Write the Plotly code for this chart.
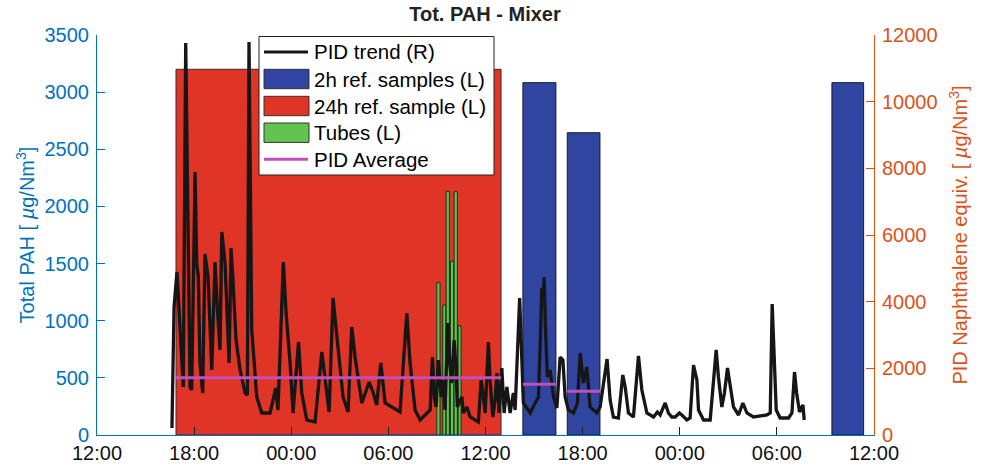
import pandas as pd
import plotly.graph_objects as go

# ---------------- data (hours after 12:00 of day 1) ----------------
start_day = "2019-05-14 12:00"

pid_hours = [4.63, 4.67, 4.76, 4.94, 5.23, 5.33, 5.48, 5.75, 5.85, 6.06,
             6.16, 6.26, 6.36, 6.53, 6.67, 6.86, 7.09, 7.29, 7.48, 7.60,
             7.71, 7.91, 8.16, 8.28, 8.40, 8.59, 8.84, 9.15, 9.29, 9.39,
             9.56, 9.87, 10.18, 10.69, 11.04, 11.18, 11.51, 11.68, 11.93, 12.11,
             12.45, 12.65, 12.96, 13.47, 13.89, 14.03, 14.34, 14.58, 14.81, 15.20,
             15.51, 15.74, 15.94, 16.36, 16.81, 17.07, 17.28, 17.53, 17.80, 18.72,
             19.14, 19.34, 19.65, 19.96, 20.58, 20.72, 20.84, 20.95, 21.09, 21.26,
             21.40, 21.50, 21.67, 21.81, 21.92, 22.06, 22.18, 22.26, 22.54, 22.63,
             22.85, 23.05, 23.56, 23.73, 23.87, 23.98, 24.18, 24.28, 24.45, 24.59,
             24.70, 24.84, 25.01, 25.15, 25.32, 25.52, 25.72, 25.83, 26.11, 26.20,
             26.34, 26.55, 26.76, 27.00, 27.27, 27.37, 27.48, 27.56, 27.62, 27.71,
             27.82, 27.99, 28.20, 28.41, 28.61, 28.78, 28.92, 29.12, 29.43, 29.68,
             29.85, 30.05, 30.26, 30.46, 30.88, 31.08, 31.51, 31.70, 31.90, 32.21,
             32.48, 32.63, 32.83, 33.14, 33.45, 33.66, 33.97, 34.38, 34.62, 34.79,
             35.10, 35.30, 35.51, 35.72, 35.98, 36.13, 36.44, 36.64, 36.85, 37.06,
             37.16, 37.47, 37.88, 38.25, 38.39, 38.60, 38.76, 38.95, 39.11, 39.32,
             39.63, 39.90, 40.15, 40.55, 41.38, 41.59, 41.71, 41.84, 41.96, 42.20,
             42.72, 42.93, 43.09, 43.22, 43.40, 43.61, 43.69]
pid_values = [210, 1440, 3840, 4890, 2160, 1440, 11760, 1440, 1350, 7890,
              5160, 4740, 2160, 1260, 5430, 4740, 1950, 5190, 3450, 2550,
              6090, 5160, 2160, 5610, 4650, 2850, 1950, 1260, 1200, 11790,
              3150, 1140, 660, 660, 1410, 750, 5190, 3660, 2160, 660,
              2790, 1260, 450, 390, 2490, 1950, 690, 4110, 3060, 1140,
              690, 3240, 2340, 960, 1590, 1260, 900, 2160, 960, 690,
              3660, 2160, 750, 450, 750, 2340, 1140, 840, 2250, 1140,
              1650, 750, 3360, 2040, 1560, 2850, 2040, 840, 1140, 660,
              840, 540, 390, 1650, 1140, 660, 2790, 1650, 540, 1050,
              1860, 660, 2010, 660, 1440, 660, 1260, 750, 4110, 2550,
              960, 810, 660, 900, 1140, 2550, 4410, 4050, 4740, 3150,
              1740, 1950, 1140, 810, 2340, 2250, 1140, 750, 660, 960,
              2460, 1560, 2040, 840, 660, 840, 2280, 1050, 540, 510,
              1800, 1440, 660, 540, 2370, 1350, 660, 540, 690, 600,
              960, 660, 540, 540, 660, 600, 450, 510, 2100, 1650,
              750, 450, 450, 2550, 1740, 840, 1260, 2010, 1440, 840,
              600, 960, 660, 540, 600, 660, 3930, 2160, 750, 510,
              510, 660, 1890, 1260, 690, 900, 450]

ref24_start = [4.88]
ref24_end = [24.96]
ref24_value = [3200]

ref2h_start = [26.31, 29.05, 45.40]
ref2h_end = [28.35, 31.07, 47.36]
ref2h_value = [3083, 2645, 3083]

tube_start = [20.99, 21.36, 21.57, 21.83, 22.06, 22.31]
tube_end = [21.19, 21.55, 21.77, 22.04, 22.26, 22.49]
tube_value = [1333, 1137, 2132, 1520, 2129, 954]

avg_start = [4.88, 26.31, 29.05]
avg_end = [24.96, 28.35, 31.07]
avg_value = [1720, 1520, 1310]

legend_labels = ["PID trend (R)", "2h ref. samples (L)", "24h ref. sample (L)",
                 "Tubes (L)", "PID Average"]

# ---------------- styles ----------------
BLUE_AX = "#0072BD"
ORANGE_AX = "#D95319"
RED = "#E03426"
NAVY = "#2F45A0"
GREEN = "#62C44E"
MAGENTA = "#BF4FBF"
FONT = "Liberation Sans, Arial, sans-serif"

t0 = pd.Timestamp(start_day)


def to_time(hours):
    return [t0 + pd.to_timedelta(h, unit="h") for h in hours]


def bar_geom(starts, ends):
    s = to_time(starts)
    e = to_time(ends)
    centers = [a + (b - a) / 2 for a, b in zip(s, e)]
    widths = [(b - a).total_seconds() * 1000 for a, b in zip(s, e)]
    return centers, widths


fig = go.Figure()

c, w = bar_geom(ref24_start, ref24_end)
fig.add_trace(go.Bar(x=c, y=ref24_value, width=w, marker=dict(color=RED, line=dict(color="#3a2a2a", width=1)),
                     name=legend_labels[2], yaxis="y", showlegend=False))
c, w = bar_geom(ref2h_start, ref2h_end)
fig.add_trace(go.Bar(x=c, y=ref2h_value, width=w, marker=dict(color=NAVY, line=dict(color="#1a1a30", width=1)),
                     name=legend_labels[1], yaxis="y", showlegend=False))
c, w = bar_geom(tube_start, tube_end)
fig.add_trace(go.Bar(x=c, y=tube_value, width=w, marker=dict(color=GREEN, line=dict(color="#1a301a", width=1)),
                     name=legend_labels[3], yaxis="y", showlegend=False))

fig.add_trace(go.Scatter(x=to_time(pid_hours), y=pid_values, mode="lines",
                         line=dict(color="#161616", width=3.3), name=legend_labels[0],
                         yaxis="y2", showlegend=False))

for s, e, v in zip(avg_start, avg_end, avg_value):
    fig.add_trace(go.Scatter(x=to_time([s, e]), y=[v, v], mode="lines",
                             line=dict(color=MAGENTA, width=3), name=legend_labels[4],
                             yaxis="y2", showlegend=False))

# ---------------- manual legend (MATLAB-like) ----------------
L, R, T, B = 97, 874, 35, 435


def px(x):
    return (x - L) / (R - L)


def py(y):
    return (B - y) / (B - T)


shapes = [dict(type="rect", xref="paper", yref="paper", x0=px(259), x1=px(494), y0=py(175), y1=py(36.5),
               fillcolor="white", line=dict(color="#222222", width=1), layer="above")]
rows = [52, 79, 106, 132.7, 159.3]
shapes.append(dict(type="line", xref="paper", yref="paper", x0=px(264), x1=px(308), y0=py(rows[0]), y1=py(rows[0]),
                   line=dict(color="#161616", width=3), layer="above"))
for yc, col in zip(rows[1:4], [NAVY, RED, GREEN]):
    shapes.append(dict(type="rect", xref="paper", yref="paper", x0=px(264), x1=px(309), y0=py(yc + 9.7), y1=py(yc - 9.7),
                       fillcolor=col, line=dict(color="#333333", width=1), layer="above"))
shapes.append(dict(type="line", xref="paper", yref="paper", x0=px(264), x1=px(308), y0=py(rows[4]), y1=py(rows[4]),
                   line=dict(color=MAGENTA, width=3), layer="above"))

annotations = []
for yc, txt in zip(rows, legend_labels):
    annotations.append(dict(xref="paper", yref="paper", x=px(312), y=py(yc), text=txt, showarrow=False,
                            xanchor="left", yanchor="middle", font=dict(family=FONT, size=20.5, color="black")))

fig.update_layout(
    width=984, height=467,
    margin=dict(l=L, r=984 - R, t=T, b=467 - B, autoexpand=False),
    paper_bgcolor="white", plot_bgcolor="white",
    barmode="overlay", bargap=0,
    showlegend=False,
    font=dict(family=FONT, size=20, color="black"),
    title=dict(text="<b>Tot. PAH - Mixer</b>", x=px(485), xref="paper", xanchor="center",
               y=1 - 14 / 467, yref="container", yanchor="middle",
               font=dict(family=FONT, size=20, color="#222222")),
    xaxis=dict(type="date", range=[t0, t0 + pd.Timedelta(hours=48)], automargin=False,
               tick0=t0, dtick=6 * 3600 * 1000, tickformat="%H:%M",
               ticks="inside", ticklen=8, tickcolor="#222222", showline=True, linecolor=BLUE_AX, linewidth=1,
               showgrid=False, zeroline=False, tickfont=dict(size=20, color="#111111")),
    yaxis=dict(range=[0, 3500], dtick=500, ticks="inside", ticklen=8, tickcolor=BLUE_AX, automargin=False,
               showline=True, linecolor=BLUE_AX, linewidth=1, showgrid=False, zeroline=False,
               tickfont=dict(size=20, color=BLUE_AX), tickformat="d", ticklabelstandoff=3,
               title=dict(text="Total PAH [ <i>µ</i>g/Nm<sup>3</sup>]", font=dict(size=20, color=BLUE_AX), standoff=4)),
    yaxis2=dict(range=[0, 12000], dtick=2000, overlaying="y", side="right", ticks="inside", ticklen=8,
                tickcolor=ORANGE_AX, showline=True, linecolor=ORANGE_AX, linewidth=1, showgrid=False,
                automargin=False, zeroline=False, tickfont=dict(size=20, color=ORANGE_AX), tickformat="d",
                ticklabelstandoff=3,
                title=dict(text="PID Naphthalene equiv. [ <i>µ</i>g/Nm<sup>3</sup>]",
                           font=dict(size=20, color=ORANGE_AX), standoff=16)),
    shapes=shapes,
    annotations=annotations,
)

fig.write_html("out.html", config={"displayModeBar": False, "staticPlot": True},
               post_script="document.body.style.margin='0';document.body.style.padding='0';")
